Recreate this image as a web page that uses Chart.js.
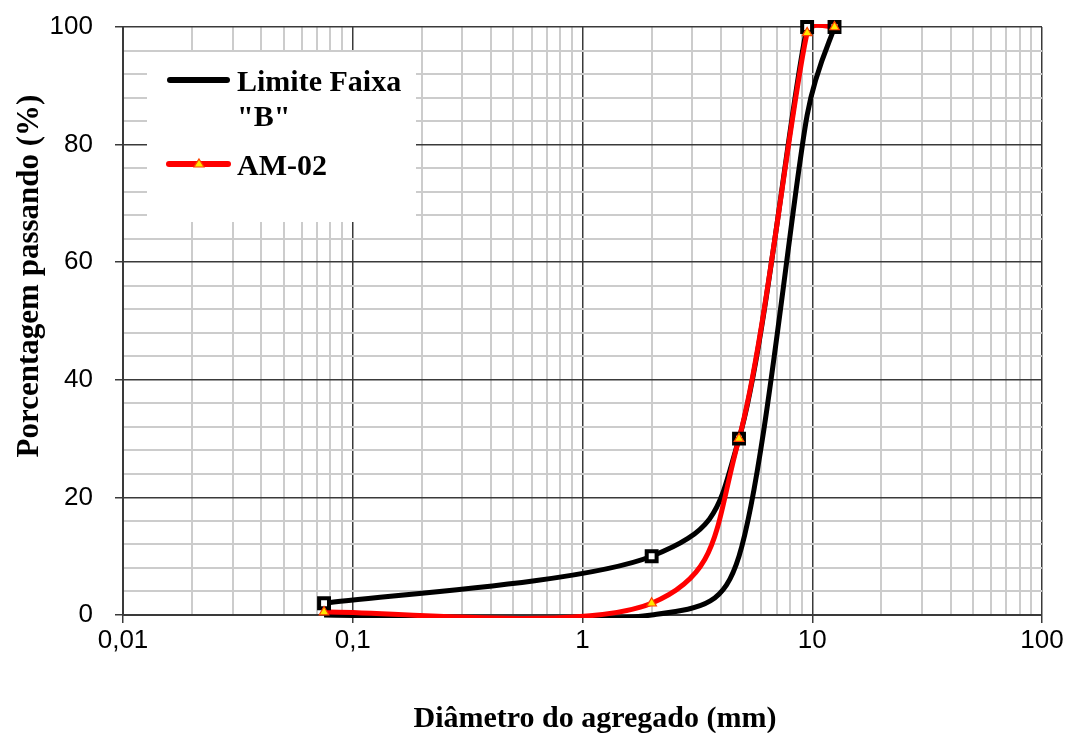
<!DOCTYPE html>
<html>
<head>
<meta charset="utf-8">
<script src="https://cdn.jsdelivr.net/npm/chart.js@4.4.1/dist/chart.umd.min.js"></script>
<style>
    html, body { margin: 0; padding: 0; background: #fff; }
</style>
</head>
<body>
<canvas id="gradChart" width="1070" height="733"></canvas>
<script>
// sieve openings (mm) and % passing
const sieveSizes = [0.075, 2.0, 4.8, 9.5, 12.5];
const limitUpper = [2, 10, 30, 100, 100];
const limitLower = [0, 0, 10, 85, 100];
const am02 = [0.5, 2, 30, 99, 100];

const xDecades = [0.01, 0.1, 1, 10, 100];
const xTickLabels = ["0,01", "0,1", "1", "10", "100"];
const yMajor = [0, 20, 40, 60, 80, 100];

const xTitle = "Diâmetro do agregado (mm)";
const yTitle = "Porcentagem passando (%)";
const legendNames = ["Limite Faixa", "\"B\"", "AM-02"];

// grid positions: 1..9 per decade on x, every 4 on y
const xGridValues = [];
xDecades.forEach((d, i) => {
    if (i === xDecades.length - 1) { xGridValues.push(d); return; }
    for (let k = 1; k <= 9; k++) xGridValues.push(d * k);
});
const yGridValues = [];
for (let v = 0; v <= 100; v += 4) yGridValues.push(v);

const majorGrid = "#3a3a3a";
const minorGrid = "#cccccc";
const serifBold = '"Liberation Serif", "Times New Roman", serif';

function isDecade(v) {
    const l = Math.log10(v);
    return Math.abs(l - Math.round(l)) < 1e-6;
}

const toPoints = (ys) => sieveSizes.map((x, i) => ({ x: x, y: ys[i] }));

// Excel-like smoothing: tangent = (next - prev), arm = 1/6 of it,
// but never longer than half of the segment it sits on
const excelSmooth = {
    id: "excelSmooth",
    beforeDatasetDraw(chart, args) {
        const line = args.meta.dataset;
        if (!line || !args.meta._dataset.showLine) return;
        line.updateControlPoints(chart.chartArea, "x");
        const pts = args.meta.data;
        const n = pts.length;
        const dist = (a, b) => Math.hypot(b.x - a.x, b.y - a.y);
        for (let i = 0; i < n; i++) {
            const p = pts[i];
            const prev = pts[Math.max(i - 1, 0)];
            const next = pts[Math.min(i + 1, n - 1)];
            const tx = next.x - prev.x;
            const ty = next.y - prev.y;
            const tl = Math.hypot(tx, ty) || 1;
            const ux = tx / tl, uy = ty / tl;
            const armIn = Math.min(tl / 6, dist(prev, p) / 2);
            const armOut = Math.min(tl / 6, dist(p, next) / 2);
            p.cp1x = p.x - ux * armIn; p.cp1y = p.y - uy * armIn;
            p.cp2x = p.x + ux * armOut; p.cp2y = p.y + uy * armOut;
        }
        line._path = undefined;
    }
};

// legend box + axis titles drawn straight on the canvas
const overlay = {
    id: "overlay",
    afterDatasetsDraw(chart) {
        const ctx = chart.ctx;
        ctx.save();
        ctx.fillStyle = "#fff";
        ctx.fillRect(147, 52, 269, 170);

        ctx.lineCap = "round";
        ctx.strokeStyle = "#000";
        ctx.lineWidth = 6;
        ctx.beginPath();
        ctx.moveTo(170, 80);
        ctx.lineTo(227, 80);
        ctx.stroke();

        ctx.strokeStyle = "#ff0000";
        ctx.beginPath();
        ctx.moveTo(169, 164);
        ctx.lineTo(228, 164);
        ctx.stroke();

        ctx.beginPath();
        ctx.moveTo(199, 159);
        ctx.lineTo(204, 167);
        ctx.lineTo(194, 167);
        ctx.closePath();
        ctx.fillStyle = "#ffe600";
        ctx.fill();
        ctx.lineWidth = 1.2;
        ctx.strokeStyle = "#ff4000";
        ctx.stroke();

        ctx.fillStyle = "#000";
        ctx.font = "bold 30px " + serifBold;
        ctx.textBaseline = "alphabetic";
        ctx.textAlign = "left";
        ctx.fillText(legendNames[0], 237, 91);
        ctx.fillText(legendNames[1], 237, 126);
        ctx.fillText(legendNames[2], 237, 175);

        ctx.textAlign = "center";
        ctx.fillText(xTitle, 595, 727);

        ctx.font = "bold 31px " + serifBold;
        ctx.translate(38, 276);
        ctx.rotate(-Math.PI / 2);
        ctx.fillText(yTitle, 0, 0);
        ctx.restore();
    }
};

const lineStyle = (data, color, order) => ({
    data: data,
    showLine: true,
    tension: 0.4,
    borderColor: color,
    borderWidth: 5,
    pointRadius: 0,
    clip: 3,
    order: order
});

const ctx = document.getElementById("gradChart").getContext("2d");
new Chart(ctx, {
    type: "scatter",
    data: {
        datasets: [
            // markers (not clipped)
            {
                label: "AM-02",
                data: toPoints(am02),
                showLine: false,
                pointStyle: "triangle",
                pointRadius: 5.5,
                pointBackgroundColor: "#ffe600",
                pointBorderColor: "#ff4000",
                pointBorderWidth: 1.2,
                clip: false,
                order: 0
            },
            {
                label: "Limite superior",
                data: toPoints(limitUpper),
                showLine: false,
                pointStyle: "rect",
                pointRadius: 7,
                pointBackgroundColor: "#fff",
                pointBorderColor: "#000",
                pointBorderWidth: 4,
                clip: false,
                order: 1
            },
            // curves
            lineStyle(toPoints(am02), "#ff0000", 2),
            lineStyle(toPoints(limitUpper), "#000", 3),
            lineStyle(toPoints(limitLower), "#000", 4)
        ]
    },
    options: {
        responsive: false,
        animation: false,
        devicePixelRatio: 1,
        layout: { padding: { top: 27, right: 28, left: 0, bottom: 0 } },
        plugins: {
            legend: { display: false },
            tooltip: { enabled: false }
        },
        scales: {
            x: {
                type: "logarithmic",
                min: 0.01,
                max: 100,
                afterBuildTicks: (scale) => {
                    scale.ticks = xGridValues.map(v => ({ value: v }));
                },
                afterFit: (scale) => { scale.height = 118; },
                grid: {
                    color: c => isDecade(c.tick.value) ? majorGrid : minorGrid,
                    lineWidth: c => isDecade(c.tick.value) ? 1.5 : 2,
                    tickColor: c => isDecade(c.tick.value) ? majorGrid : "rgba(0,0,0,0)",
                    tickLength: 8
                },
                border: { color: majorGrid, width: 2 },
                ticks: {
                    autoSkip: false,
                    maxRotation: 0,
                    minRotation: 0,
                    padding: 2,
                    color: "#000",
                    font: { family: '"Liberation Sans Narrow", "Liberation Sans", sans-serif', size: 26 },
                    callback: (v) => {
                        const i = xDecades.indexOf(v);
                        return i >= 0 ? xTickLabels[i] : "";
                    }
                }
            },
            y: {
                min: 0,
                max: 100,
                afterBuildTicks: (scale) => {
                    scale.ticks = yGridValues.map(v => ({ value: v }));
                },
                afterFit: (scale) => {
                    scale.width = 123;
                    scale.paddingTop = 0;
                    scale.paddingBottom = 0;
                },
                grid: {
                    color: c => yMajor.includes(c.tick.value) ? majorGrid : minorGrid,
                    lineWidth: c => yMajor.includes(c.tick.value) ? 1.5 : 2,
                    tickColor: c => yMajor.includes(c.tick.value) ? majorGrid : "rgba(0,0,0,0)",
                    tickLength: 8
                },
                border: { color: majorGrid, width: 2 },
                ticks: {
                    autoSkip: false,
                    padding: 22,
                    color: "#000",
                    font: { family: '"Liberation Sans", Arial, sans-serif', size: 26 },
                    callback: (v) => yMajor.includes(v) ? String(v) : ""
                }
            }
        }
    },
    plugins: [excelSmooth, overlay]
});
</script>
</body>
</html>
